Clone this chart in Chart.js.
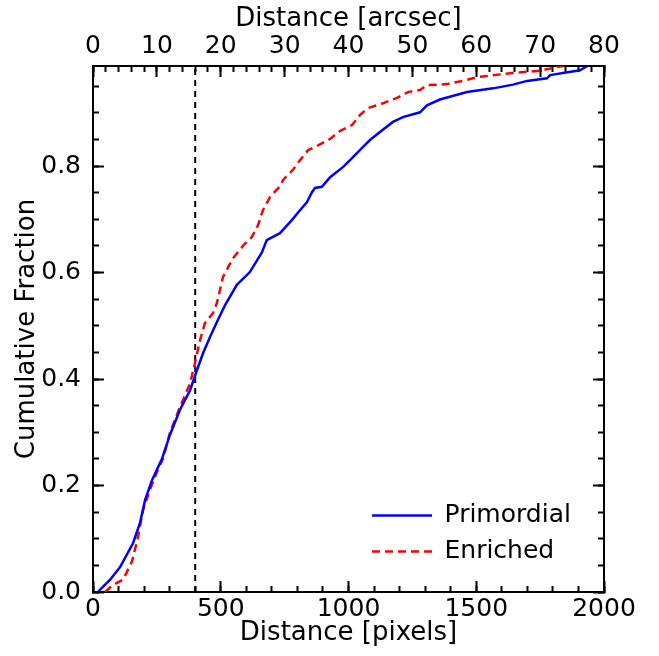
<!DOCTYPE html>
<html>
<head>
<meta charset="utf-8">
<script src="https://cdn.jsdelivr.net/npm/chart.js@4/dist/chart.umd.min.js"></script>
<style>
  html, body { margin: 0; padding: 0; background: #fff; }
  #wrap { width: 659px; height: 656px; }
</style>
</head>
<body>
<div id="wrap"><canvas id="grafica" width="659" height="656"></canvas></div>
<script>
// datos (distancia en pixeles, fraccion acumulada)
const primordialX = [20, 27, 67, 106, 157, 184, 204, 231, 270, 301, 340, 380, 407, 431, 458, 485, 517, 563, 614, 661, 680, 732, 779, 810, 837, 857, 869, 896, 928, 978, 1006, 1057, 1084, 1123, 1174, 1213, 1280, 1307, 1358, 1464, 1566, 1644, 1699, 1777, 1789, 1906, 1935];
const primordialY = [0, 0.004, 0.023, 0.047, 0.092, 0.130, 0.173, 0.210, 0.250, 0.295, 0.342, 0.379, 0.417, 0.449, 0.479, 0.507, 0.539, 0.577, 0.601, 0.638, 0.661, 0.674, 0.699, 0.717, 0.732, 0.751, 0.759, 0.761, 0.779, 0.798, 0.811, 0.836, 0.849, 0.864, 0.883, 0.892, 0.901, 0.914, 0.925, 0.939, 0.946, 0.953, 0.960, 0.965, 0.971, 0.980, 0.988];

const enrichedX = [47, 78, 117, 130, 153, 176, 196, 223, 250, 274, 301, 340, 380, 399, 419, 438, 470, 485, 509, 548, 587, 622, 646, 665, 693, 732, 744, 783, 810, 842, 881, 928, 967, 1014, 1045, 1076, 1135, 1190, 1233, 1280, 1307, 1385, 1448, 1503, 1644, 1750, 1816, 1840];
const enrichedY = [0, 0.013, 0.023, 0.035, 0.058, 0.103, 0.154, 0.192, 0.225, 0.250, 0.299, 0.347, 0.392, 0.430, 0.473, 0.505, 0.524, 0.543, 0.592, 0.627, 0.650, 0.667, 0.689, 0.717, 0.742, 0.762, 0.774, 0.793, 0.811, 0.830, 0.839, 0.851, 0.866, 0.877, 0.896, 0.909, 0.918, 0.928, 0.939, 0.943, 0.952, 0.954, 0.960, 0.967, 0.975, 0.979, 0.986, 0.988];

const corteX = 400;          // linea vertical discontinua
const yMax = 0.988;
const xMax = 2000;           // pixeles
const arcsecMax = 80;        // eje superior
const pixelTicks = 500, pixelMinor = 100;
const arcsecTicks = 10, arcsecMinor = 2;
const fracTicks = 0.2, fracMinor = 0.05;

Chart.defaults.font.family = 'DejaVu Sans';
Chart.defaults.color = '#000';

const fuente = { family: 'DejaVu Sans', size: 25 };
const fuenteTitulo = { family: 'DejaVu Sans', size: 26 };
const negro = '#000';

const puntos = (xs, ys) => xs.map((x, i) => ({ x: x, y: ys[i] }));

// tamaño fijo de cada eje
const fijar = (w, h) => s => {
    if (w !== null) s.width = w;
    if (h !== null) s.height = h;
};

function ejeX(pos, max, paso, largo, opciones) {
    return Object.assign({
        type: 'linear', position: pos, min: 0, max: max,
        ticks: { stepSize: paso, includeBounds: false, display: false, maxRotation: 0, autoSkip: false },
        grid: { drawOnChartArea: false, tickLength: largo, tickWidth: 2, tickColor: negro },
        border: { color: negro, width: 2 }
    }, opciones);
}

function ejeY(pos, paso, largo, opciones) {
    return Object.assign({
        type: 'linear', position: pos, min: 0, max: yMax,
        ticks: { stepSize: paso, includeBounds: false, display: false },
        grid: { drawOnChartArea: false, tickLength: largo, tickWidth: 2, tickColor: negro },
        border: { color: negro, width: 2 }
    }, opciones);
}

// coloca la leyenda dentro del area de la grafica (abajo a la derecha)
const ubicarLeyenda = {
    id: 'ubicarLeyenda',
    afterLayout(chart) {
        const lg = chart.legend;
        const a = chart.chartArea;
        lg.left = a.right - 243;
        lg.top = a.bottom - 100;
        lg.right = lg.left + 240;
        lg.bottom = lg.top + 300;
    }
};

new Chart(document.getElementById('grafica'), {
    type: 'line',
    data: {
        datasets: [
            { label: 'Primordial', data: puntos(primordialX, primordialY), borderColor: '#0000ff', borderWidth: 2.5, pointRadius: 0, pointStyle: 'line', tension: 0, xAxisID: 'x', yAxisID: 'y' },
            { label: 'Enriched', data: puntos(enrichedX, enrichedY), borderColor: '#ff0000', borderWidth: 2.5, borderDash: [8, 5], pointRadius: 0, pointStyle: 'line', tension: 0, xAxisID: 'x', yAxisID: 'y' },
            { label: 'corte', data: [{ x: corteX, y: 0 }, { x: corteX, y: yMax }], borderColor: negro, borderWidth: 2, borderDash: [6, 5], pointRadius: 0, xAxisID: 'x', yAxisID: 'y' }
        ]
    },
    options: {
        responsive: false,
        animation: false,
        devicePixelRatio: 1,
        layout: { padding: 0 },
        plugins: {
            tooltip: { enabled: false },
            legend: {
                position: 'chartArea',
                align: 'start',
                labels: {
                    font: fuente,
                    color: negro,
                    usePointStyle: true,
                    pointStyleWidth: 60,
                    padding: 11,
                    generateLabels: chart => Chart.defaults.plugins.legend.labels.generateLabels(chart)
                        .filter(it => it.datasetIndex < 2)
                        .map(it => {
                            const ds = chart.data.datasets[it.datasetIndex];
                            it.lineDash = ds.borderDash || [];
                            it.lineWidth = ds.borderWidth;
                            it.strokeStyle = ds.borderColor;
                            it.pointStyle = 'line';
                            return it;
                        })
                }
            }
        },
        scales: {
            x: ejeX('bottom', xMax, pixelTicks, -11, {
                weight: 1,
                ticks: { stepSize: pixelTicks, includeBounds: false, display: true, font: fuente, color: negro, padding: 13, maxRotation: 0, autoSkip: false, callback: v => String(v) },
                title: { display: true, text: 'Distance [pixels]', font: fuenteTitulo, color: negro, padding: { top: 0, bottom: 7 } },
                afterFit: fijar(null, 64)
            }),
            xMenor: ejeX('bottom', xMax, pixelMinor, -6, { weight: 0, afterFit: fijar(null, 0) }),
            xArc: ejeX('top', arcsecMax, arcsecTicks, -11, {
                weight: 1,
                ticks: { stepSize: arcsecTicks, includeBounds: false, display: true, font: fuente, color: negro, padding: 16, maxRotation: 0, autoSkip: false, callback: v => String(v) },
                title: { display: true, text: 'Distance [arcsec]', font: fuenteTitulo, color: negro, padding: { top: 4, bottom: 0 } },
                afterFit: fijar(null, 66)
            }),
            xArcMenor: ejeX('top', arcsecMax, arcsecMinor, -6, { weight: 0, afterFit: fijar(null, 0) }),
            y: ejeY('left', fracTicks, -11, {
                weight: 1,
                ticks: { stepSize: fracTicks, includeBounds: false, display: true, font: fuente, color: negro, padding: 23, callback: v => v.toFixed(1) },
                title: { display: true, text: 'Cumulative Fraction', font: fuenteTitulo, color: negro, padding: { top: 12, bottom: 0 } },
                afterFit: fijar(93, null)
            }),
            yMenor: ejeY('left', fracMinor, -6, { weight: 0, afterFit: fijar(0, null) }),
            yDer: ejeY('right', fracTicks, -11, { weight: 1, afterFit: fijar(55, null) }),
            yDerMenor: ejeY('right', fracMinor, -6, { weight: 0, afterFit: fijar(0, null) })
        }
    },
    plugins: [ubicarLeyenda]
});
</script>
</body>
</html>
